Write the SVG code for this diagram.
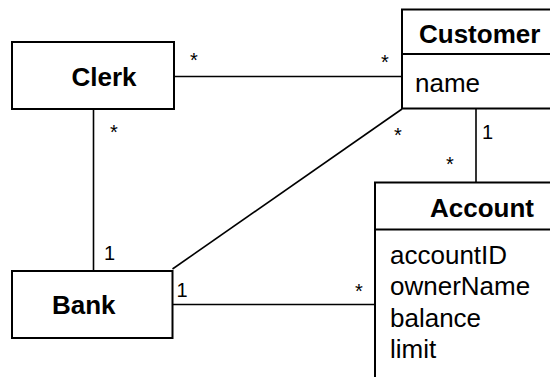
<svg xmlns="http://www.w3.org/2000/svg" width="550" height="377" viewBox="0 0 550 377">
<style>
.box{fill:#fff;stroke:#000;stroke-width:2}
.ln{stroke:#000;stroke-width:1.6;fill:none}
.t{font-family:"Liberation Sans",Arial,sans-serif;font-size:26px;fill:#000}
.b{font-weight:bold}
.m{font-family:"Liberation Sans",Arial,sans-serif;font-size:20px;fill:#000;text-anchor:middle}
</style>
<rect width="550" height="377" fill="#fff"/>
<g id="connectors">
<line class="ln" x1="174" y1="76.5" x2="402" y2="76.5"/>
<line class="ln" x1="93.5" y1="109" x2="93.5" y2="271"/>
<line class="ln" x1="402" y1="109" x2="172.5" y2="269"/>
<line class="ln" x1="476" y1="108" x2="476" y2="182"/>
<line class="ln" x1="172.5" y1="304.5" x2="375" y2="304.5"/>
<text class="m" x="194" y="66.5">*</text>
<text class="m" x="385" y="69">*</text>
<text class="m" x="114" y="138.5">*</text>
<text class="m" x="109.5" y="260">1</text>
<text class="m" x="182" y="297">1</text>
<text class="m" x="359" y="297.5">*</text>
<text class="m" x="398" y="142">*</text>
<text class="m" x="487.5" y="139">1</text>
<text class="m" x="450" y="170.5">*</text>
</g>
<g id="clerk">
<rect class="box" x="12" y="42" width="162" height="67"/>
<text class="t b" x="71.5" y="86">Clerk</text>
</g>
<g id="customer">
<rect class="box" x="402" y="9.5" width="160" height="99"/>
<line class="ln" x1="402" y1="54" x2="562" y2="54" style="stroke-width:2"/>
<text class="t b" x="419" y="43">Customer</text>
<text class="t" x="415" y="92">name</text>
</g>
<g id="account">
<rect class="box" x="375" y="182.5" width="190" height="210"/>
<line class="ln" x1="375" y1="229.5" x2="565" y2="229.5" style="stroke-width:2"/>
<text class="t b" x="430" y="216.5">Account</text>
<text class="t" x="390" y="264">accountID</text>
<text class="t" x="390" y="295">ownerName</text>
<text class="t" x="390" y="326.5">balance</text>
<text class="t" x="390" y="358">limit</text>
</g>
<g id="bank">
<rect class="box" x="12" y="271" width="160.5" height="67"/>
<text class="t b" x="52" y="314">Bank</text>
</g>
</svg>
